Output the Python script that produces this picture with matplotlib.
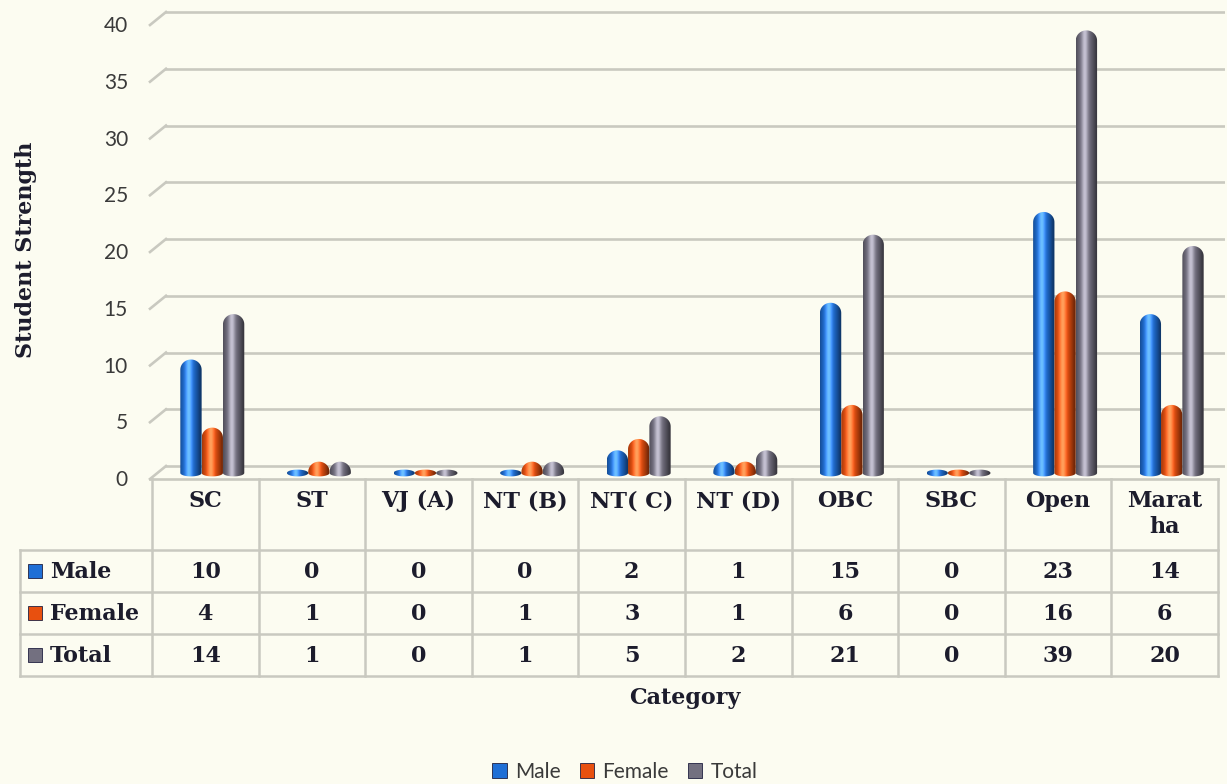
import numpy as np
import matplotlib
matplotlib.use("Agg")
import matplotlib.pyplot as plt
from matplotlib.path import Path
from matplotlib.patches import PathPatch, Rectangle, Patch
from matplotlib.colors import to_rgb
from matplotlib.transforms import offset_copy

# data
categories = ["SC", "ST", "VJ (A)", "NT (B)", "NT( C)", "NT (D)", "OBC", "SBC", "Open", "Maratha"]
header_labels = ["SC", "ST", "VJ (A)", "NT (B)", "NT( C)", "NT (D)", "OBC", "SBC", "Open", "Marat\nha"]
male = [10, 0, 0, 0, 2, 1, 15, 0, 23, 14]
female = [4, 1, 0, 1, 3, 1, 6, 0, 16, 6]
total = [14, 1, 0, 1, 5, 2, 21, 0, 39, 20]
series_names = ["Male", "Female", "Total"]
series_colors = ["#1f6fd6", "#e8500f", "#737080"]
y_ticks = [0, 5, 10, 15, 20, 25, 30, 35, 40]

BG = "#fcfcf1"
GRID = "#c9c9c0"
TXT = "#1c1c2c"
SERIF = "DejaVu Serif"
SANS = "Lato"

W, H = 1227, 784
fig = plt.figure(figsize=(W / 100, H / 100), dpi=100, facecolor=BG)

# pixel layout of the plot area
px_left, px_right = 159, 1225
px_zero, px_forty = 466, 12
ppu = (px_zero - px_forty) / 40.0
y_lo, y_hi = -1.1, 40.5
ax_bot = px_zero + (0 - y_lo) * ppu
ax_top = px_zero - y_hi * ppu
ax = fig.add_axes([px_left / W, 1 - ax_bot / H, (px_right - px_left) / W, (ax_bot - ax_top) / H])
ax.set_facecolor("none")
ax.set_xlim(-0.5, len(categories) - 0.5)
ax.set_ylim(y_lo, y_hi)
ax.axis("off")

# overlay in pixel coords (y down) for table, ticks, perspective bits
ov = fig.add_axes([0, 0, 1, 1], zorder=-1)
ov.set_xlim(0, W)
ov.set_ylim(H, 0)
ov.axis("off")
ov.patch.set_alpha(0)

grid_start = (166 - px_left) / (px_right - px_left)
for t in y_ticks:
    ax.axhline(t, xmin=grid_start, xmax=1, color=GRID, lw=1.9, zorder=0)
    gy = px_zero - t * ppu
    ov.plot([150, 166], [gy + 13, gy], color=GRID, lw=1.9)
    ov.text(128, gy + 14, str(t), ha="right", va="center", fontsize=15,
            family=SANS, color="#3a3a3a")
ov.plot([150, 1218], [479, 479], color=GRID, lw=1.9)

# bars stand in the middle of the floor depth, a few pixels in front of the back wall
bar_tr = offset_copy(ax.transData, fig=fig, x=0, y=-7, units="dots")


def shade(base, n=64):
    t = np.linspace(0, 1, n)
    k = np.clip(np.cos((t - 0.4) * np.pi * 0.95), 0, 1)
    rgb = np.array(to_rgb(base))
    cols = rgb[None, :] * (0.5 + 0.55 * k[:, None]) + 0.3 * (k[:, None] ** 10)
    return np.clip(cols, 0, 1)[None, :, :]


def cylinder(x0, w, v, color):
    ry = 0.9
    eb = 0.3
    xc = x0 + w / 2
    if v <= 0:
        a = np.linspace(0, 2 * np.pi, 60)
        xs = xc + w / 2 * np.cos(a)
        ys = eb * np.sin(a)
        top = eb
    else:
        h = min(ry, v)
        a_bot = np.linspace(np.pi, 2 * np.pi, 30)
        a_top = np.linspace(0, np.pi, 30)
        xs = np.concatenate([xc + w / 2 * np.cos(a_bot), xc + w / 2 * np.cos(a_top)])
        ys = np.concatenate([eb * np.sin(a_bot), (v - h) + h * np.sin(a_top)])
        top = v
    verts = np.column_stack([xs, ys])
    patch = PathPatch(Path(np.vstack([verts, verts[:1]]), closed=True),
                      facecolor="none", edgecolor="none", transform=bar_tr)
    ax.add_patch(patch)
    im = ax.imshow(shade(color), extent=[x0, x0 + w, -eb - 0.05, top + 0.05],
                   aspect="auto", interpolation="bilinear", zorder=3, transform=bar_tr)
    im.set_clip_path(patch)


bw = 0.2
x = np.arange(len(categories))
for j, (vals, col) in enumerate(zip([male, female, total], series_colors)):
    for i, v in enumerate(vals):
        cylinder(x[i] + (j - 1) * bw - bw / 2, bw, v, col)
ax.set_xlim(-0.5, len(categories) - 0.5)
ax.set_ylim(y_lo, y_hi)

# data table
col_w = (1218 - 152) / len(categories)
col_edges = [152 + i * col_w for i in range(len(categories) + 1)]
row_edges = [550, 592, 634, 676]
tl = dict(color=GRID, lw=1.8)
ov.plot([152, 152], [479, 676], **tl)
for xe in col_edges[1:]:
    ov.plot([xe, xe], [479, 676], **tl)
ov.plot([20, 20], [550, 676], **tl)
for ye in row_edges:
    ov.plot([20, 1218], [ye, ye], **tl)
for i, lab in enumerate(header_labels):
    cx = (col_edges[i] + col_edges[i + 1]) / 2
    ov.text(cx, 490, lab, ha="center", va="top", fontsize=16, family=SERIF,
            weight="bold", color=TXT, linespacing=1.25)
for r, (name, vals, col) in enumerate(zip(series_names, [male, female, total], series_colors)):
    cy = (row_edges[r] + row_edges[r + 1]) / 2
    ov.add_patch(Rectangle((28, cy - 7), 14, 14, facecolor=col, edgecolor="#202040", lw=0.6))
    ov.text(50, cy + 1, name, ha="left", va="center", fontsize=16, family=SERIF,
            weight="bold", color=TXT)
    for i, v in enumerate(vals):
        cx = (col_edges[i] + col_edges[i + 1]) / 2
        ov.text(cx, cy + 1, str(v), ha="center", va="center", fontsize=16, family=SERIF,
                weight="bold", color=TXT)

ov.text(26, 250, "Student Strength", rotation=90, ha="center", va="center",
        fontsize=16, family=SERIF, weight="bold", color=TXT)
ov.text(685, 698, "Category", ha="center", va="center", fontsize=16, family=SERIF,
        weight="bold", color=TXT)

handles = [Patch(facecolor=c, edgecolor="#202040", lw=0.6, label=n)
           for n, c in zip(series_names, series_colors)]
fig.legend(handles=handles, loc="center", bbox_to_anchor=(625 / W, 1 - 772 / H), ncol=3,
           frameon=False, handlelength=0.7, handleheight=0.7, handletextpad=0.4,
           columnspacing=0.9, prop={"family": SANS, "size": 15}, labelcolor="#3a3a3a")

fig.savefig("out.png", dpi=100, facecolor=BG)
